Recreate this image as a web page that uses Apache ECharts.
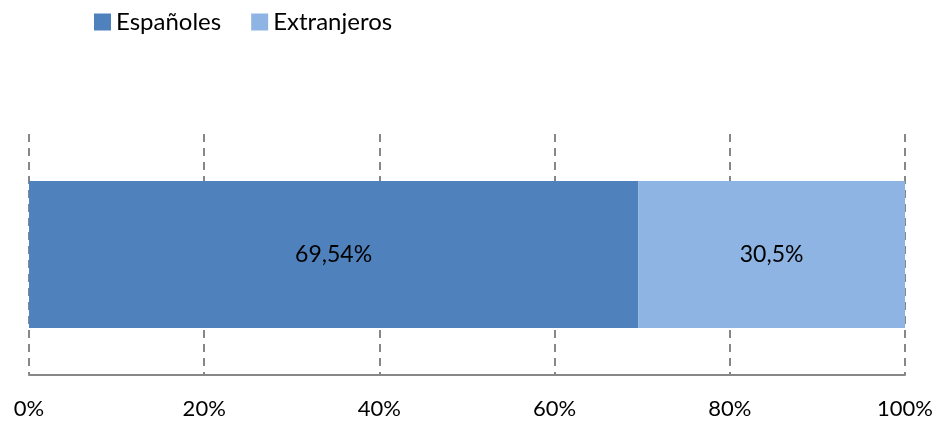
<!DOCTYPE html>
<html>
<head>
<meta charset="utf-8">
<script src="https://cdn.jsdelivr.net/npm/echarts@6/dist/echarts.min.js"></script>
<style>
  html, body { margin: 0; padding: 0; background: #fff; }
  #chart { width: 939px; height: 423px; }
</style>
</head>
<body>
<div id="chart"></div>
<script>
// datos del gráfico
const categories = ['Total'];
const seriesNames = ['Españoles', 'Extranjeros'];
const espanoles = [69.54];
const extranjeros = [30.5];
const tickValues = [0, 20, 40, 60, 80, 100];

const fontFamily = 'Lato, "Open Sans", sans-serif';
const pct = v => String(v).replace('.', ',') + '%';

const chart = echarts.init(document.getElementById('chart'));

const option = {
  animation: false,
  color: ['#4F81BD', '#8EB4E3'],
  legend: {
    data: seriesNames,
    left: 89,
    top: 5,
    icon: 'rect',
    itemWidth: 17,
    itemHeight: 17,
    itemGap: 30,
    textStyle: { fontSize: 24, color: '#000', fontFamily: fontFamily }
  },
  grid: { left: 29, right: 34, top: 134, bottom: 48 },
  xAxis: {
    type: 'value',
    min: tickValues[0],
    max: tickValues[tickValues.length - 1],
    interval: 20,
    axisLine: { show: true, lineStyle: { color: '#878787', width: 2 } },
    axisTick: { show: false },
    axisLabel: {
      fontSize: 22,
      color: '#000',
      fontFamily: fontFamily,
      margin: 23,
      formatter: v => v + '%'
    },
    splitLine: {
      show: true,
      lineStyle: { color: '#878787', width: 2, type: [8, 6] }
    }
  },
  yAxis: {
    type: 'category',
    data: categories,
    axisLine: { show: false },
    axisTick: { show: false },
    axisLabel: { show: false }
  },
  series: [
    {
      name: seriesNames[0],
      type: 'bar',
      stack: 'total',
      data: espanoles,
      barWidth: 147,
      label: {
        show: true,
        position: 'inside',
        fontSize: 23,
        color: '#000',
        fontFamily: fontFamily,
        formatter: p => pct(p.value)
      }
    },
    {
      name: seriesNames[1],
      type: 'bar',
      stack: 'total',
      data: extranjeros,
      barWidth: 147,
      label: {
        show: true,
        position: 'inside',
        fontSize: 23,
        color: '#000',
        fontFamily: fontFamily,
        formatter: p => pct(p.value)
      }
    }
  ]
};

chart.setOption(option);
</script>
</body>
</html>
